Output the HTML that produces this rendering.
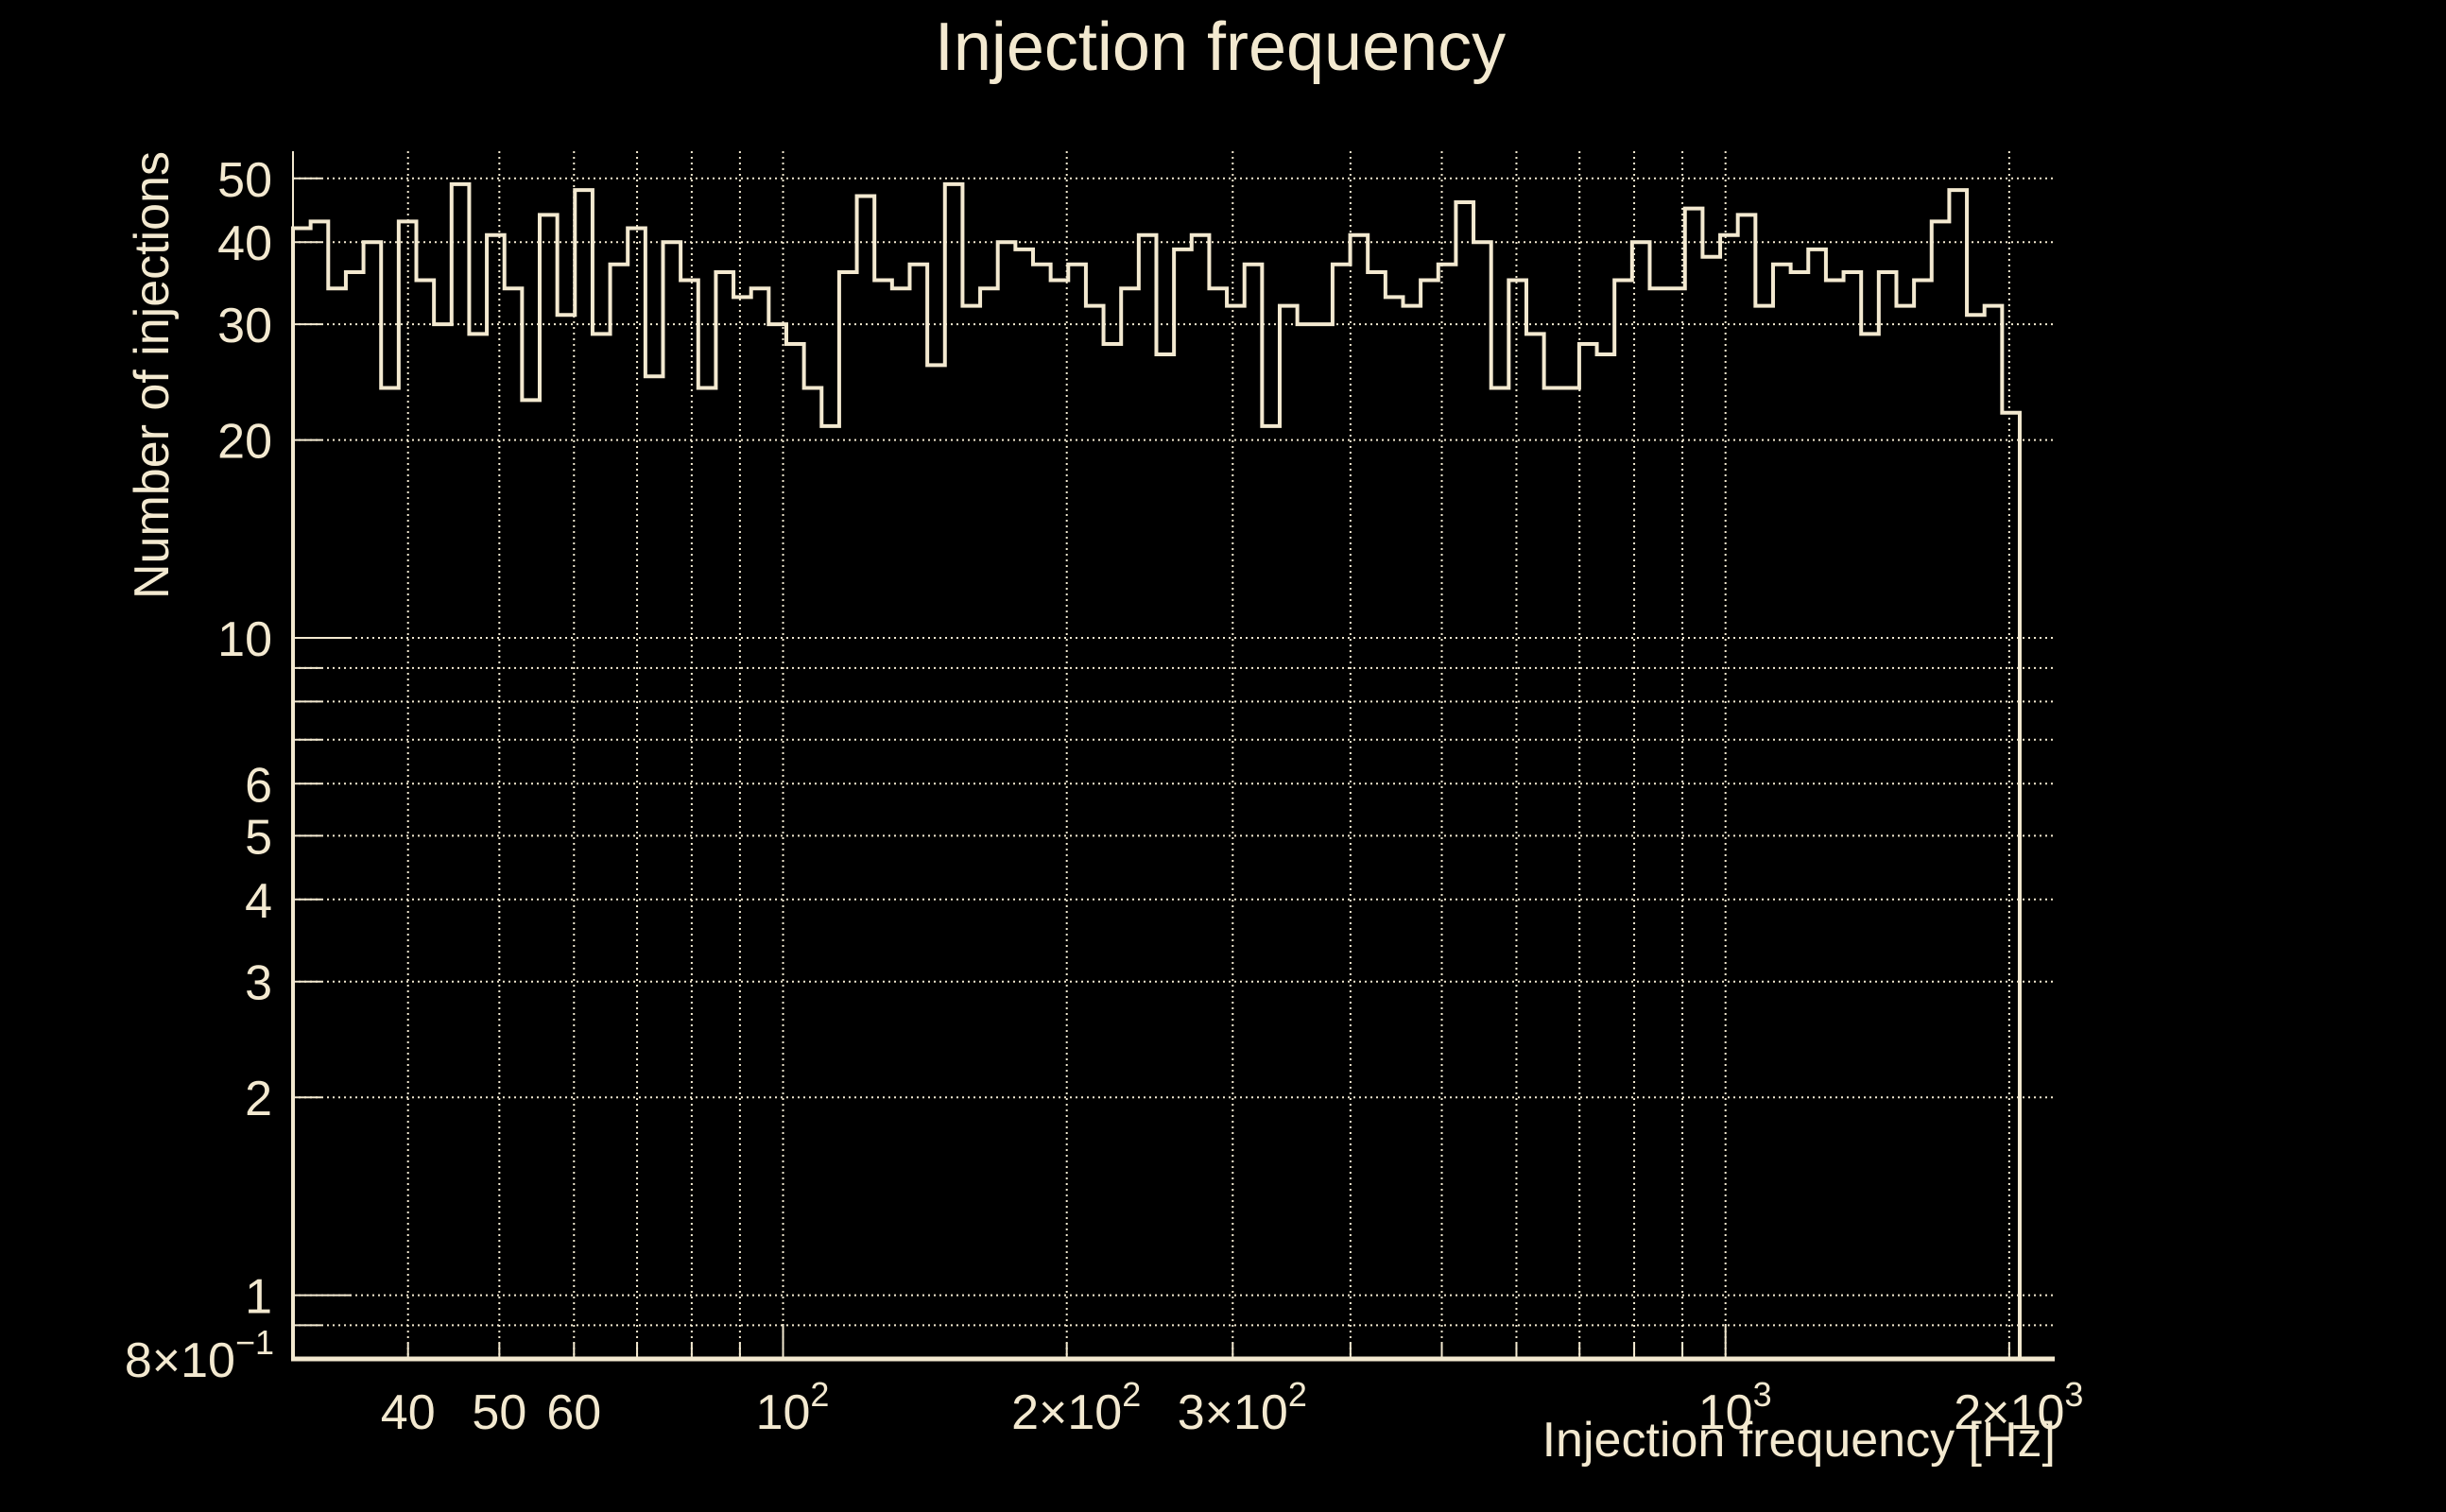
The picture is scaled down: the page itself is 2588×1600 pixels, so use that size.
<!DOCTYPE html>
<html>
<head>
<meta charset="utf-8">
<style>
  html,body{margin:0;padding:0;background:#000;}
  svg{display:block;}
  text{font-family:"Liberation Sans",sans-serif;fill:#f3e9d0;}
</style>
</head>
<body>
<svg id="chart" width="2588" height="1600" viewBox="0 0 2588 1600" xmlns="http://www.w3.org/2000/svg">
  <rect x="0" y="0" width="2588" height="1600" fill="#000"/>
  <text x="1291" y="74" font-size="72" text-anchor="middle">Injection frequency</text>
  <text x="2175" y="1541" font-size="52" text-anchor="end">Injection frequency [Hz]</text>
  <text transform="translate(178,160) rotate(-90)" font-size="52" text-anchor="end">Number of injections</text>
  <g id="grid"></g>
  <g id="ticks"></g>
  <g id="labels"></g>
  <g id="series"></g>
  <g id="axes"></g>
</svg>
<script>
const binLow = 30.2;
const binHigh = 2052;
const counts = [42,43,34,36,40,24,43,35,30,49,29,41,34,23,44,31,48,29,37,42,
  25,40,35,24,36,33,34,30,28,24,21,36,47,35,34,37,26,49,32,34,
  40,39,37,35,37,32,28,34,41,27,39,41,34,32,37,21,32,30,30,37,
  41,36,33,32,35,37,46,40,24,35,29,24,24,28,27,35,40,34,34,45,
  38,41,44,32,37,36,39,35,36,29,36,32,35,43,48,31,32,22];
const xGridValues = [40,50,60,70,80,90,100,200,300,400,500,600,700,800,900,1000,2000];
const xLabelValues = [40,50,60,100,200,300,1000,2000];
const xLabelMain = ["40","50","60","10","2\u00d710","3\u00d710","10","2\u00d710"];
const xLabelSup = ["","","","2","2","2","3","3"];
const yGridValues = [0.9,1,2,3,4,5,6,7,8,9,10,20,30,40,50];
const yLabelValues = [1,2,3,4,5,6,10,20,30,40,50];
const yLabelText = ["1","2","3","4","5","6","10","20","30","40","50"];

const NS = "http://www.w3.org/2000/svg";
const COL = "#f3e9d0";
const px0 = 310, px1 = 2173, xmin = 30.2, xmax = 2230;
const py0 = 1438, py1 = 160, ymin = 0.8, ymax = 55;
function X(v){ return px0 + (Math.log10(v)-Math.log10(xmin))/(Math.log10(xmax)-Math.log10(xmin))*(px1-px0); }
function Y(v){ return py0 - (Math.log10(v)-Math.log10(ymin))/(Math.log10(ymax)-Math.log10(ymin))*(py0-py1); }
function mk(tag, parent, attrs){
  const e = document.createElementNS(NS, tag);
  for (const k in attrs) e.setAttribute(k, attrs[k]);
  parent.appendChild(e);
  return e;
}
const grid = document.getElementById('grid');
const ticks = document.getElementById('ticks');
const labels = document.getElementById('labels');
const series = document.getElementById('series');
const axes = document.getElementById('axes');

xGridValues.forEach(v => {
  const l = mk('line', grid, {x1:X(v), x2:X(v), y1:py1, y2:py0, stroke:COL, 'stroke-width':2, 'stroke-dasharray':'2,4'});
  
  
  const major = (v===100||v===1000);
  const t = mk('line', ticks, {x1:X(v), x2:X(v), y1:py0, y2:py0-(major?37:17), stroke:COL, 'stroke-width':2});
  
  
});
yGridValues.forEach(v => {
  const l = mk('line', grid, {x1:px0, x2:px1, y1:Y(v), y2:Y(v), stroke:COL, 'stroke-width':2, 'stroke-dasharray':'2,4'});
  
  
  const major = (v===1||v===10);
  const t = mk('line', ticks, {x1:px0, x2:px0+(major?62:30), y1:Y(v), y2:Y(v), stroke:COL, 'stroke-width':2});
  
  
});
xLabelValues.forEach((v,i) => {
  const t = mk('text', labels, {x:X(v), y:1512, 'font-size':52, 'text-anchor':'middle'});
  
  
  t.textContent = xLabelMain[i];
  if (xLabelSup[i]) {
    const s = document.createElementNS(NS, 'tspan');
    s.setAttribute('font-size', '36');
    s.setAttribute('dy', '-24');
    s.textContent = xLabelSup[i];
    t.appendChild(s);
    t.setAttribute('x', X(v) + 10);
  }
});
yLabelValues.forEach((v,i) => {
  const t = mk('text', labels, {x:288, y:Y(v)+19, 'font-size':52, 'text-anchor':'end'});
  
  
  t.textContent = yLabelText[i];
});
const ym = mk('text', labels, {x:290, y:Y(0.8)+19, 'font-size':52, 'text-anchor':'end'});


ym.textContent = "8\u00d710";
const yms = document.createElementNS(NS, 'tspan');
yms.setAttribute('font-size', '36');
yms.setAttribute('dy', '-24');
yms.textContent = "\u22121";
ym.appendChild(yms);

// histogram step path
const n = counts.length;
const lb = Math.log10(binLow), hb = Math.log10(binHigh);
function edge(i){ return Math.pow(10, lb + (hb-lb)*i/n); }
let d = "M" + X(edge(0)) + "," + py0;
counts.forEach((c,i) => {
  d += " L" + X(edge(i)) + "," + Y(c) + " L" + X(edge(i+1)) + "," + Y(c);
});
d += " L" + X(edge(n)) + "," + py0;
const p = mk('path', series, {d:d, fill:'none', stroke:COL, 'stroke-width':4, 'stroke-linejoin':'miter'});



const ax = mk('line', axes, {x1:px0, x2:px0, y1:py1, y2:py0, stroke:COL, 'stroke-width':2});


const bx = mk('line', axes, {x1:px0-2, x2:px1+1, y1:py0, y2:py0, stroke:COL, 'stroke-width':5});


</script>
</body>
</html>
